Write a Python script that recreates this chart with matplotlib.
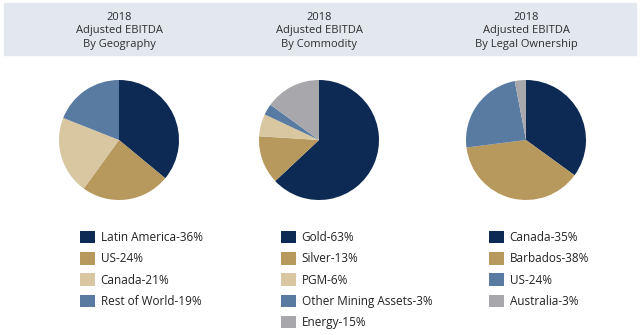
import matplotlib
matplotlib.use("Agg")
import matplotlib.pyplot as plt
from matplotlib.patches import Rectangle

plt.rcParams['font.family'] = ['Open Sans', 'DejaVu Sans']

W, H = 640, 335

# segment colours
NAVY = '#0c2a53'
GOLD = '#b7985d'
TAN = '#d8c7a1'
BLUE = '#5a7ba1'
GREY = '#a8a8ac'

titles = [
    "2018\nAdjusted EBITDA\nBy Geography",
    "2018\nAdjusted EBITDA\nBy Commodity",
    "2018\nAdjusted EBITDA\nBy Legal Ownership",
]

geo_labels = ["Latin America", "US", "Canada", "Rest of World"]
geo_values = [36, 24, 21, 19]
geo_colors = [NAVY, GOLD, TAN, BLUE]

com_labels = ["Gold", "Silver", "PGM", "Other Mining Assets", "Energy"]
com_values = [63, 13, 6, 3, 15]
com_colors = [NAVY, GOLD, TAN, BLUE, GREY]

own_labels = ["Canada", "Barbados", "US", "Australia"]
own_values = [35, 38, 24, 3]
own_colors = [NAVY, GOLD, BLUE, GREY]

charts = [
    (geo_labels, geo_values, geo_colors, 119, 80),
    (com_labels, com_values, com_colors, 319, 281),
    (own_labels, own_values, own_colors, 526, 489),
]

fig = plt.figure(figsize=(W / 100, H / 100), dpi=100)

# header band
fig.patches.append(Rectangle((4 / W, 1 - 55 / H), 632 / W, 52 / H,
                             transform=fig.transFigure, color='#e3e8ef', zorder=0))

R = 60
for (labels, values, colors, cx, lx), title in zip(charts, titles):
    fig.text(cx / W, 1 - 31 / H, title, ha='center', va='center',
             fontsize=8, color='#2e2e2e', linespacing=1.3)
    ax = fig.add_axes([(cx - R) / W, (H - 140 - R) / H, 2 * R / W, 2 * R / H])
    wedges, _ = ax.pie(values, colors=colors, startangle=90, counterclock=False,
                       wedgeprops=dict(linewidth=0))
    ax.set_xlim(-1, 1)
    ax.set_ylim(-1, 1)
    ax.set_aspect('auto')
    ax.axis('off')
    texts = [f"{l}-{v}%" for l, v in zip(labels, values)]
    fig.legend(wedges, texts, loc='upper left',
               bbox_to_anchor=(lx / W, 1 - 231 / H), frameon=False,
               fontsize=8.5, handlelength=1.25, handleheight=1.25,
               handletextpad=0.5, labelspacing=0.68, borderpad=0,
               borderaxespad=0, labelcolor='#222222')

fig.savefig('out.png', dpi=100)
